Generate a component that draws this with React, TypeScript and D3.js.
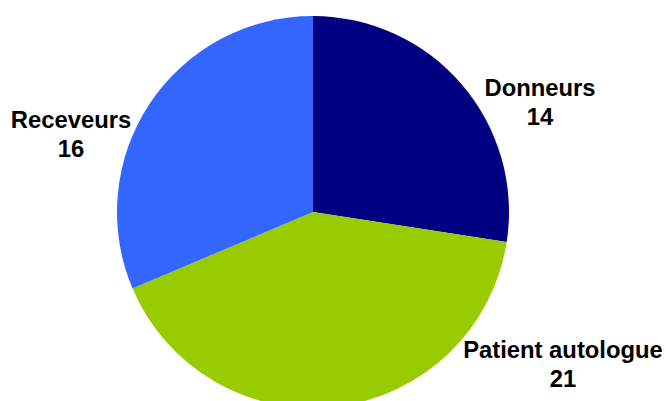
import React from "react";
import * as d3 from "d3";

const categories = ["Donneurs", "Patient autologue", "Receveurs"];
const values = [14, 21, 16];
const colors = ["#000080", "#99CC00", "#3366FF"];
const labelPos: [number, number][] = [[540, 96], [563, 358], [71, 128]];

const W = 666, H = 401;
const cx = 313, cy = 212, r = 196;

export default function App() {
  const pie = d3.pie<number>().sort(null).value((d) => d);
  const arcs = pie(values);
  const arc = d3.arc<d3.PieArcDatum<number>>().innerRadius(0).outerRadius(r);
  return (
    <svg width={W} height={H} style={{ position: "absolute", left: 0, top: 0, background: "#fff" }}>
      <g transform={`translate(${cx},${cy})`}>
        {arcs.map((a, i) => (
          <path key={i} d={arc(a) || ""} fill={colors[i]} />
        ))}
      </g>
      {categories.map((c, i) => (
        <text key={c} x={labelPos[i][0]} y={labelPos[i][1]} textAnchor="middle"
          fontFamily="'Liberation Sans', Arial, sans-serif" fontWeight="bold" fontSize={23.8} fill="#000">
          <tspan x={labelPos[i][0]}>{c}</tspan>
          <tspan x={labelPos[i][0]} dy={28.5}>{values[i]}</tspan>
        </text>
      ))}
    </svg>
  );
}
